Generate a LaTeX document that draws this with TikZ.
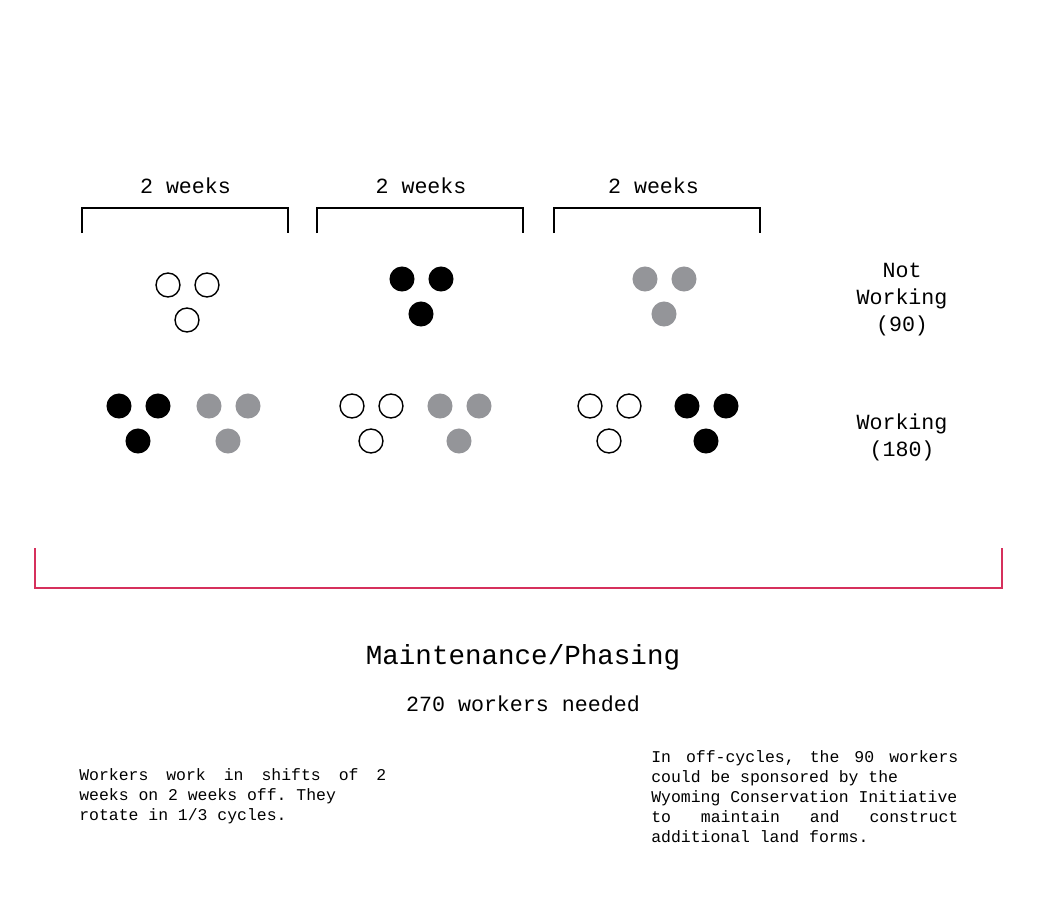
\documentclass[tikz,border=0pt]{standalone}
\usepackage{fontspec}
\setmonofont{Liberation Mono}
\usetikzlibrary{positioning}
\definecolor{crewgray}{RGB}{148,149,153}
\definecolor{phasered}{RGB}{214,48,92}
\newcommand{\spreadline}[1]{\hbox to 218.4pt{#1}}

\begin{document}
\begin{tikzpicture}[x=0.025cm,y=-0.025cm,font=\ttfamily\fontsize{15.4}{19.2}\selectfont,
  bracket/.style={draw=black,line width=1.1pt},
  phase/.style={draw=phasered,line width=1.1pt},
  worker/.style={circle,inner sep=0pt,minimum size=17.8pt},
  crewopen/.style={worker,draw=black,line width=1pt,fill=white,minimum size=17pt},
  crewblack/.style={worker,fill=black},
  crewgray/.style={worker,fill=crewgray},
  rowtag/.style={align=center,inner sep=0pt},
  note/.style={align=left,inner sep=0pt,font=\ttfamily\fontsize{11.7}{14.2}\selectfont}]
\useasboundingbox (0,0) rectangle (1046,896);

% Three two-week periods.
\foreach \cx/\tx/\id in {185/185.5/weeka,420/421/weekb,657/653.5/weekc}{
  \node[anchor=base] (\id) at (\tx,193) {2 weeks};
  \draw[bracket] (\cx-103,233) -- (\cx-103,208) -- (\cx+103,208) -- (\cx+103,233);
}

% Crews of three, placed by their lower worker.
\foreach \bx/\by/\kind/\id in {187/320/crewopen/offa,421/314/crewblack/offb,
    664/314/crewgray/offc,138/441/crewblack/onaa,228/441/crewgray/onab,
    371/441/crewopen/onba,459/441/crewgray/onbb,609/441/crewopen/onca,
    706/441/crewblack/oncb}{
  \node[\kind] (\id-l) at (\bx-19,\by-35) {};
  \node[\kind] (\id-r) at (\bx+20,\by-35) {};
  \node[\kind] (\id-b) at (\bx,\by) {};
}

\node[rowtag] (idle) at (902,300) {Not\\Working\\(90)};
\node[rowtag] (busy) at (902,437) {Working\\(180)};

% Whole cycle.
\draw[phase] (35,548) -- (35,588) -- (1002,588) -- (1002,548);
\node[anchor=base,font=\ttfamily\fontsize{19.6}{24}\selectfont] (title) at (523,664)
  {Maintenance/Phasing};
\node[anchor=base] (need) at (523,711) {270 workers needed};

\node[note,anchor=north west] (shifts) at (79,768)
  {\spreadline{Workers\hfill work\hfill in\hfill shifts\hfill of\hfill 2}\\
   weeks on 2 weeks off. They\\rotate in 1/3 cycles.};
\node[note,anchor=north west] (offcycle) at (651,750)
  {\spreadline{In\hfill off-cycles,\hfill the\hfill 90\hfill workers}\\
   could be sponsored by the\\Wyoming Conservation Initiative\\
   \spreadline{to\hfill maintain\hfill and\hfill construct}\\additional land forms.};
\end{tikzpicture}
\end{document}
